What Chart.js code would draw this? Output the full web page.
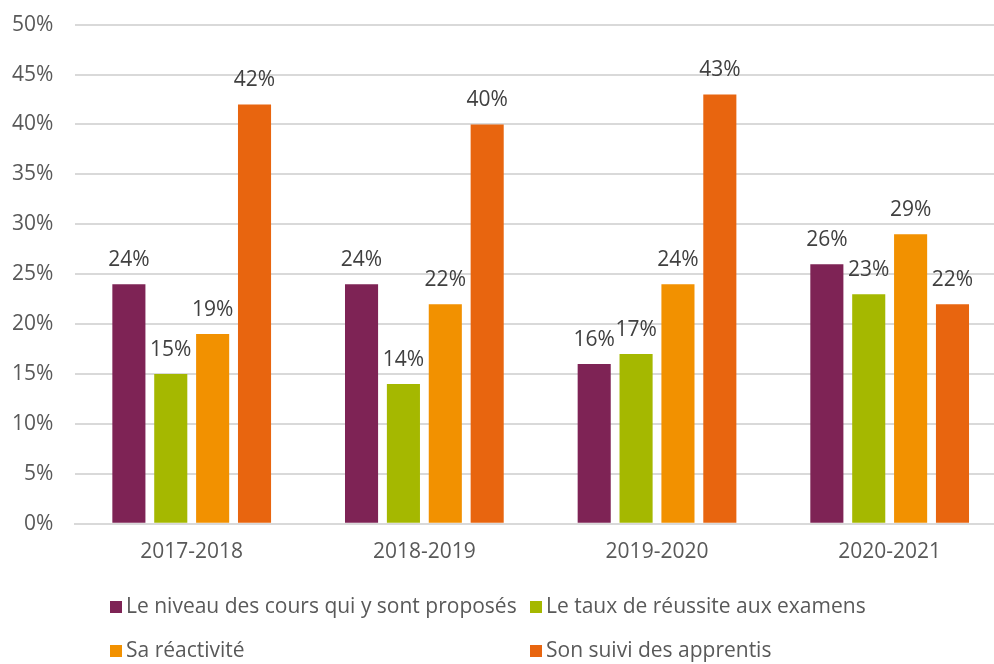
<!DOCTYPE html>
<html>
<head>
<meta charset="utf-8">
<script src="https://cdn.jsdelivr.net/npm/chart.js@4.4.1/dist/chart.umd.min.js"></script>
<style>
  html, body { margin: 0; padding: 0; background: #fff; overflow: hidden; }
  #wrap { position: relative; width: 994px; height: 664px; overflow: hidden; }
  #box { position: absolute; left: -14px; top: -10px; width: 1020px; height: 674px; }
  #legend { position: absolute; left: 110px; top: 591px; width: 870px;
    font-family: "Open Sans", sans-serif; font-size: 21px; color: #595959; }
  .item { position: absolute; white-space: nowrap; }
  .item span.sw { display: inline-block; width: 12px; height: 12px; margin-right: 4px; vertical-align: 0px; }
</style>
</head>
<body>
<div id="wrap">
  <div id="box"><canvas id="barChart"></canvas></div>
  <div id="legend"></div>
</div>
<script>
const years = ["2017-2018", "2018-2019", "2019-2020", "2020-2021"];
const seriesNames = ["Le niveau des cours qui y sont proposés", "Le taux de réussite aux examens", "Sa réactivité", "Son suivi des apprentis"];
const niveau = [24, 24, 16, 26];
const reussite = [15, 14, 17, 23];
const reactivite = [19, 22, 24, 29];
const suivi = [42, 40, 43, 22];
const colors = ["#7E2355", "#A5B800", "#F29100", "#E8650F"];

var ctx = document.getElementById("barChart").getContext('2d');

// étiquettes au-dessus des barres
const valueLabels = {
  id: 'valueLabels',
  afterDatasetsDraw(chart) {
    const c = chart.ctx;
    c.save();
    c.font = '21px "Open Sans", sans-serif';
    c.fillStyle = '#404040';
    c.textAlign = 'center';
    c.textBaseline = 'bottom';
    chart.data.datasets.forEach((ds, i) => {
      chart.getDatasetMeta(i).data.forEach((bar, j) => {
        c.fillText(ds.data[j] + '%', bar.x, bar.y - 14);
      });
    });
    c.restore();
  }
};

var myChart = new Chart(ctx, {
  type: 'bar',
  data: {
    labels: years,
    datasets: [niveau, reussite, reactivite, suivi].map((d, i) => ({
      label: seriesNames[i],
      data: d,
      backgroundColor: colors[i],
      categoryPercentage: 0.72,
      barPercentage: 0.79
    }))
  },
  options: {
    responsive: true,
    maintainAspectRatio: false,
    animation: false,
    layout: { padding: { top: 1, bottom: 91, left: 4, right: 0 } },
    scales: {
      x: {
        grid: { display: false },
        border: { color: '#D9D9D9', width: 2 },
        ticks: { color: '#595959', font: { family: 'Open Sans', size: 21 }, padding: 8 }
      },
      y: {
        min: 0, max: 50,
        grid: { color: '#D9D9D9', lineWidth: 2, drawTicks: false },
        border: { display: false },
        ticks: {
          stepSize: 5,
          padding: 22,
          color: '#595959',
          font: { family: 'Open Sans', size: 21 },
          callback: v => v + '%'
        }
      }
    },
    plugins: {
      legend: { display: false },
      tooltip: { enabled: false }
    }
  },
  plugins: [valueLabels]
});

// légende sur deux colonnes
const pos = [[0, 0], [420, 0], [0, 44], [420, 44]];
const leg = document.getElementById('legend');
seriesNames.forEach((name, i) => {
  const el = document.createElement('div');
  el.className = 'item';
  el.style.left = pos[i][0] + 'px';
  el.style.top = pos[i][1] + 'px';
  el.innerHTML = '<span class="sw" style="background:' + colors[i] + '"></span>' + name;
  leg.appendChild(el);
});
</script>
</body>
</html>
